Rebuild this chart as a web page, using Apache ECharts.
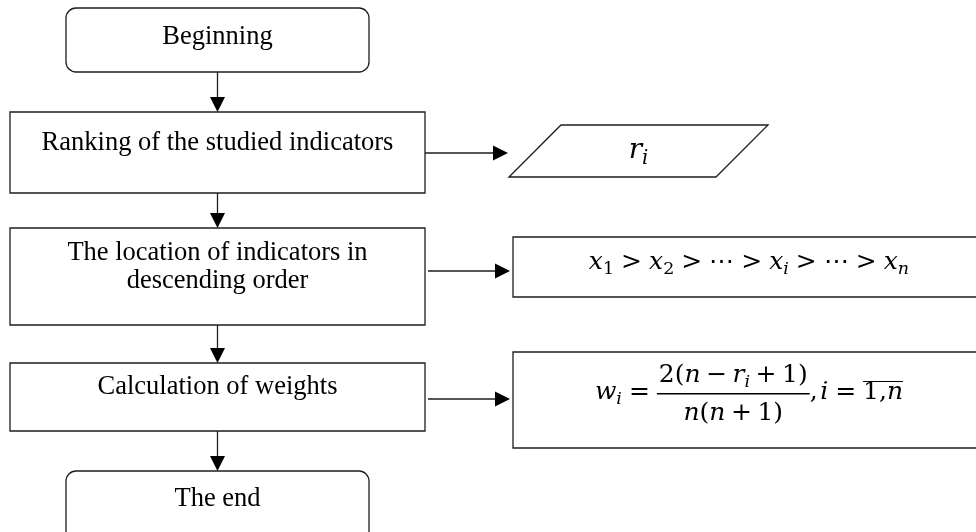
<!DOCTYPE html>
<html><head><meta charset="utf-8">
<script src="https://cdn.jsdelivr.net/npm/echarts@6/dist/echarts.min.js"></script>
<style>html,body{margin:0;padding:0;background:#fff}#c{width:976px;height:532px}</style>
</head><body><div id="c"></div>
<script>
// ---------- content ----------
const nodeLabels = ['Beginning', 'Ranking of the studied indicators', 'The location of indicators in\ndescending order', 'Calculation of weights', 'The end', 'r_i', 'x_chain', 'w_formula'];
const nodeShapes = ['terminal', 'process', 'process', 'process', 'terminal', 'data', 'process', 'process'];
const edgeFrom = [0, 1, 2, 3, 1, 2, 3];
const edgeTo = [1, 2, 3, 4, 5, 6, 7];

// math token lists (it = italic, sub = subscript, rel = relation, bin = binary op, ov = overlined)
const mathR = [{t:'r',it:1},{t:'i',it:1,sub:1}];
const mathX = [{t:'x',it:1},{t:'1',sub:1},{t:'>',rel:1},{t:'x',it:1},{t:'2',sub:1},{t:'>',rel:1},{t:'\u22EF'},{t:'>',rel:1},{t:'x',it:1},{t:'i',it:1,sub:1},{t:'>',rel:1},{t:'\u22EF'},{t:'>',rel:1},{t:'x',it:1},{t:'n',it:1,sub:1}];
const mathWLeft = [{t:'w',it:1},{t:'i',it:1,sub:1},{t:'=',rel:1}];
const mathWNum = [{t:'2'},{t:'('},{t:'n',it:1},{t:'\u2212',bin:1},{t:'r',it:1},{t:'i',it:1,sub:1},{t:'+',bin:1},{t:'1'},{t:')'}];
const mathWDen = [{t:'n',it:1},{t:'('},{t:'n',it:1},{t:'+',bin:1},{t:'1'},{t:')'}];
const mathWRight = [{t:','},{t:'i',it:1,pre:0.1},{t:'=',rel:1},{t:'1',ov:1},{t:',',ov:1},{t:'n',it:1,ov:1}];

// ---------- layout (diagram units, mapped through hidden axes) ----------
const nodeBoxes = [[66,8,369,72],[10,112,425,193],[10,228,425,325],[10,363,425,431],[66,471,369,548],[509,125,768,177],[513,237,985,297],[513,352,985,448]];
const labelBaselines = [[45],[151],[261,289],[395],[507],[159],[270],[400]];
const edgeRoutes = [[217.5,72,217.5,112],[217.5,193,217.5,228],[217.5,325,217.5,363],[217.5,431,217.5,471],[425,153,508,153],[428,271,510,271],[428,399,510,399]];

// ---------- styles ----------
const STROKE = '#1e1e1e';
const LW = 1.3;
const TEXT_FONT = '"Liberation Serif", "Times New Roman", serif';
const TEXT_SIZE = 26.5;
const MATH_FONT = '"DejaVu Serif", serif';
const MATH_SIZE = 25;
const MID = 0.29;

const mctx = document.createElement('canvas').getContext('2d');
function layoutTokens(tokens, size) {
  let x = 0; const out = [];
  tokens.forEach(tk => {
    const s = tk.sub ? size * 0.7 : size;
    const font = (tk.it ? 'italic ' : '') + s + 'px ' + MATH_FONT;
    const pad = tk.rel ? 0.28 * size : (tk.bin ? 0.22 * size : 0);
    x += pad + (tk.pre || 0) * size;
    mctx.font = font;
    const w = mctx.measureText(tk.t).width;
    out.push({t: tk.t, x: x, w: w, s: s, font: font, dy: tk.sub ? 0.2 * size : 0, ov: tk.ov});
    x += w + pad;
  });
  return {items: out, width: x};
}
function mathEls(lay, x0, base) {
  const els = [];
  let ovA = null, ovB = null;
  lay.items.forEach(it => {
    els.push({type: 'text', silent: true, style: {text: it.t, x: x0 + it.x, y: base + it.dy - MID * it.s, font: it.font, fill: '#000', align: 'left', verticalAlign: 'middle'}});
    if (it.ov) {
      if (ovA === null) ovA = x0 + it.x;
      ovB = x0 + it.x + it.w;
    }
  });
  if (ovA !== null) {
    els.push({type: 'line', silent: true, shape: {x1: ovA, y1: base - MATH_SIZE * 0.74, x2: ovB, y2: base - MATH_SIZE * 0.74}, style: {stroke: '#000', lineWidth: 1}});
  }
  return els;
}

function nodeItem(params, api) {
  const i = api.value(0);
  const b = nodeBoxes[i];
  const p0 = api.coord([b[0], b[1]]);
  const p1 = api.coord([b[2], b[3]]);
  const children = [];
  const shape = nodeShapes[i];
  const st = {fill: '#fff', stroke: STROKE, lineWidth: LW};
  if (shape === 'terminal') {
    children.push({type: 'rect', shape: {x: p0[0], y: p0[1], width: p1[0]-p0[0], height: p1[1]-p0[1], r: 10}, style: st});
  } else if (shape === 'process') {
    children.push({type: 'rect', shape: {x: p0[0], y: p0[1], width: p1[0]-p0[0], height: p1[1]-p0[1]}, style: st});
  } else {
    const sk = p1[1] - p0[1];
    children.push({type: 'polygon', shape: {points: [[p0[0], p1[1]], [p0[0]+sk, p0[1]], [p1[0], p0[1]], [p1[0]-sk, p1[1]]]}, style: st});
  }
  const cx = (p0[0] + p1[0]) / 2;
  const bl = labelBaselines[i].map(v => api.coord([0, v])[1]);
  const label = nodeLabels[i];
  if (label === 'r_i' || label === 'x_chain') {
    const lay = layoutTokens(label === 'r_i' ? mathR : mathX, label === 'r_i' ? 28 : MATH_SIZE);
    mathEls(lay, cx - lay.width / 2, bl[0]).forEach(e => children.push(e));
  } else if (label === 'w_formula') {
    const L = layoutTokens(mathWLeft, MATH_SIZE);
    const N = layoutTokens(mathWNum, MATH_SIZE);
    const D = layoutTokens(mathWDen, MATH_SIZE);
    const R = layoutTokens(mathWRight, MATH_SIZE);
    const fw = Math.max(N.width, D.width) + 4;
    const total = L.width + fw + R.width;
    let x = cx - total / 2;
    const base = bl[0];
    mathEls(L, x, base).forEach(e => children.push(e));
    x += L.width;
    const barY = base - 0.25 * MATH_SIZE;
    children.push({type: 'line', silent: true, shape: {x1: x, y1: barY, x2: x + fw, y2: barY}, style: {stroke: '#000', lineWidth: 1.4}});
    mathEls(N, x + (fw - N.width) / 2, barY - 11).forEach(e => children.push(e));
    mathEls(D, x + (fw - D.width) / 2, barY + 27).forEach(e => children.push(e));
    x += fw;
    mathEls(R, x, base).forEach(e => children.push(e));
  } else {
    label.split('\n').forEach((ln, k) => {
      children.push({type: 'text', silent: true, style: {text: ln, x: cx, y: bl[k] - MID * TEXT_SIZE, font: TEXT_SIZE + 'px ' + TEXT_FONT, fill: '#000', align: 'center', verticalAlign: 'middle'}});
    });
  }
  return {type: 'group', children: children};
}

function edgeItem(params, api) {
  const e = edgeRoutes[api.value(0)];
  const a = api.coord([e[0], e[1]]);
  const t = api.coord([e[2], e[3]]);
  const dx = t[0] - a[0], dy = t[1] - a[1];
  const len = Math.sqrt(dx*dx + dy*dy);
  const ux = dx / len, uy = dy / len;
  const HL = 15, HW = 7.5;
  const bx = t[0] - ux * HL, by = t[1] - uy * HL;
  return {type: 'group', children: [
    {type: 'line', shape: {x1: a[0], y1: a[1], x2: bx, y2: by}, style: {stroke: STROKE, lineWidth: LW}},
    {type: 'polygon', shape: {points: [[t[0], t[1]], [bx - uy * HW, by + ux * HW], [bx + uy * HW, by - ux * HW]]}, style: {fill: '#000'}}
  ]};
}

const chart = echarts.init(document.getElementById('c'), null, {renderer: 'canvas'});
chart.setOption({
  animation: false,
  backgroundColor: '#fff',
  grid: {left: 0, right: 0, top: 0, bottom: 0},
  xAxis: {type: 'value', min: 0, max: 976, show: false},
  yAxis: {type: 'value', min: 0, max: 532, inverse: true, show: false},
  series: [
    {type: 'custom', name: 'edges', clip: false, renderItem: edgeItem, data: edgeFrom.map((f, k) => [k, f, edgeTo[k]]), z: 1},
    {type: 'custom', name: 'nodes', clip: false, renderItem: nodeItem, data: nodeLabels.map((n, k) => [k]), z: 2}
  ]
});
</script>
</body></html>
